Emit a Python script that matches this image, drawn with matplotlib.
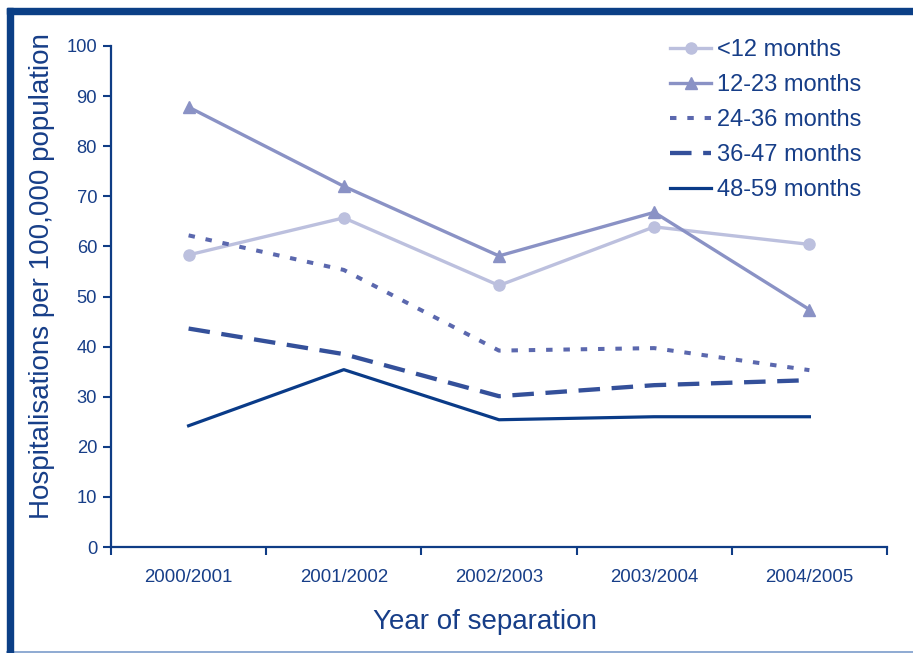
import matplotlib
matplotlib.use("Agg")
import matplotlib.pyplot as plt
from matplotlib.patches import Rectangle
from matplotlib.lines import Line2D

plt.rcParams['font.family'] = ['Liberation Sans', 'DejaVu Sans']

years = ["2000/2001", "2001/2002", "2002/2003", "2003/2004", "2004/2005"]
under_12 = [58.3, 65.7, 52.2, 63.9, 60.4]
m12_23 = [87.8, 72.0, 58.1, 66.8, 47.4]
m24_36 = [62.2, 55.3, 39.2, 39.7, 35.3]
m36_47 = [43.6, 38.5, 30.1, 32.3, 33.3]
m48_59 = [24.2, 35.4, 25.4, 26.0, 26.0]
series_labels = ["<12 months", "12-23 months", "24-36 months", "36-47 months", "48-59 months"]

navy = "#0F3C85"
text_col = "#173E88"

fig = plt.figure(figsize=(9.13, 6.53), dpi=100)
W, H = 913, 653
ax = fig.add_axes([111 / W, (H - 547) / H, (887 - 111) / W, (547 - 46) / H])

x = list(range(len(years)))
ax.plot(x, under_12, color="#BCC0DE", lw=2.4, marker="o", ms=8, mec="#BCC0DE",
        label=series_labels[0])
ax.plot(x, m12_23, color="#8A92C5", lw=2.4, marker="^", ms=9, mec="#8A92C5",
        label=series_labels[1])
ax.plot(x, m24_36, color="#5B68AE", lw=2.9, dashes=(1.6, 2.7),
        label=series_labels[2])
ax.plot(x, m36_47, color="#34509A", lw=3.1, dashes=(5.0, 2.7),
        label=series_labels[3])
ax.plot(x, m48_59, color="#0A3B88", lw=2.3, label=series_labels[4])

ax.set_xlim(-0.5, len(years) - 0.5)
ax.set_ylim(0, 100)
ax.set_yticks(range(0, 101, 10))
ax.set_xticks(x)
ax.set_xticklabels(years)
ax.set_xticks([i - 0.5 for i in range(len(years) + 1)], minor=True)
ax.tick_params(axis="x", which="major", length=0, pad=16, labelsize=13.4, labelcolor=text_col)
ax.tick_params(axis="x", which="minor", length=6, width=1.5, color=navy, direction="out")
ax.tick_params(axis="y", length=6, width=1.5, color=navy, pad=4, labelsize=13.2, labelcolor=text_col)

for side in ("top", "right"):
    ax.spines[side].set_visible(False)
for side in ("left", "bottom"):
    ax.spines[side].set_color(navy)
    ax.spines[side].set_linewidth(1.6)

ax.set_xlabel("Year of separation", fontsize=20, color=text_col)
ax.xaxis.set_label_coords((485 - 111) / 776, -(622 - 547) / 501)
ax.xaxis.label.set_va("center")
ax.set_ylabel("Hospitalisations per 100,000 population", fontsize=20, color=text_col)
ax.yaxis.set_label_coords(-(111 - 42) / 776, (547 - 276) / 501)
ax.yaxis.label.set_va("center")

leg = ax.legend(loc="upper left", bbox_to_anchor=(670 / W, 1 - 39 / H),
                bbox_transform=fig.transFigure, frameon=False,
                fontsize=17, handlelength=1.75, handletextpad=0.22,
                labelspacing=0.55, borderaxespad=0, borderpad=0)
for t in leg.get_texts():
    t.set_color(text_col)

# frame around the figure: thick top and left rules, thin bottom rule
fig.patches.append(Rectangle((7 / W, 0), 6 / W, (H - 8) / H, transform=fig.transFigure,
                             color="#0B3F86", zorder=10))
fig.patches.append(Rectangle((7 / W, (H - 14) / H), (W - 7) / W, 6 / H, transform=fig.transFigure,
                             color="#0B3F86", zorder=10))
fig.lines.append(Line2D([7 / W, 1], [1.5 / H, 1.5 / H], transform=fig.transFigure,
                        color="#7C9CCB", lw=1.2))

fig.savefig("out.png", dpi=100)
